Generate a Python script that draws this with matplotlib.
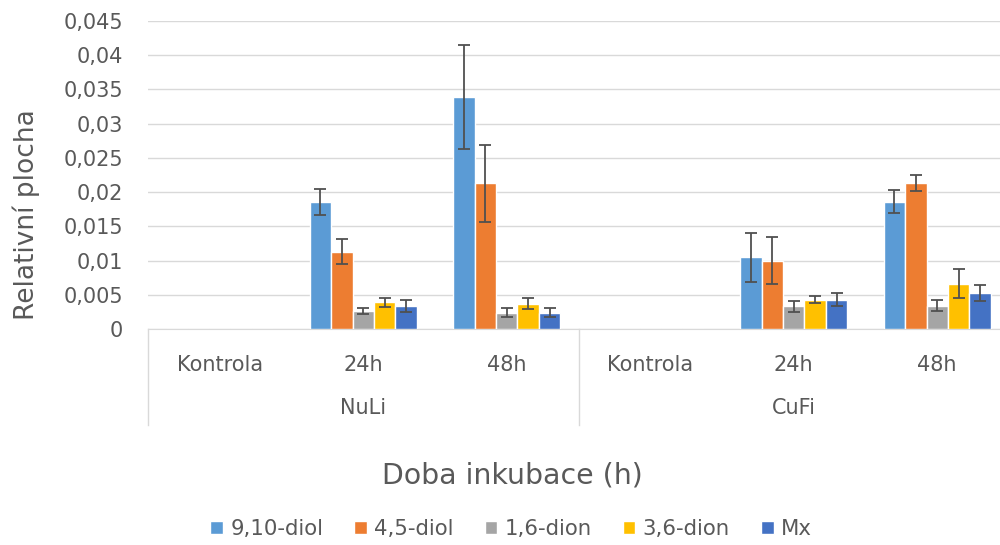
import numpy as np
import matplotlib.pyplot as plt
from matplotlib.lines import Line2D

# data
groups = ['NuLi', 'CuFi']
times = ['Kontrola', '24h', '48h']
series = ['9,10-diol', '4,5-diol', '1,6-dion', '3,6-dion', 'Mx']
colors = ['#5B9BD5', '#ED7D31', '#A5A5A5', '#FFC000', '#4472C4']

# values per category: NuLi Kontrola, NuLi 24h, NuLi 48h, CuFi Kontrola, CuFi 24h, CuFi 48h
diol910 = [0, 0.0186, 0.0339, 0, 0.0105, 0.0186]
diol45 = [0, 0.0113, 0.0213, 0, 0.0100, 0.0213]
dion16 = [0, 0.0026, 0.0024, 0, 0.0033, 0.0034]
dion36 = [0, 0.0039, 0.0037, 0, 0.0043, 0.0066]
mx = [0, 0.0034, 0.0024, 0, 0.0043, 0.0053]

err910 = [0, 0.0019, 0.0076, 0, 0.0036, 0.0017]
err45 = [0, 0.0018, 0.0056, 0, 0.0034, 0.0012]
err16 = [0, 0.0004, 0.0007, 0, 0.0008, 0.0008]
err36 = [0, 0.0007, 0.0008, 0, 0.0005, 0.0021]
errmx = [0, 0.0009, 0.0007, 0, 0.0009, 0.0012]

values = [diol910, diol45, dion16, dion36, mx]
errors = [err910, err45, err16, err36, errmx]

plt.rcParams['font.family'] = ['DejaVu Sans']
txt = '#595959'

fig = plt.figure(figsize=(10, 5.45), dpi=100)
ax = fig.add_axes([0.148, 0.3963, 0.861, 0.5651])

x = np.arange(len(groups) * len(times))
slot = 0.149
for i, (vals, errs) in enumerate(zip(values, errors)):
    pos = x + (i - 2) * slot
    ax.bar(pos, vals, width=slot, color=colors[i], edgecolor='white',
           linewidth=1, label=series[i], zorder=3)
    e = np.array(errs)
    m = e > 0
    ax.errorbar(pos[m], np.array(vals)[m], yerr=e[m], fmt='none',
                ecolor='#505050', elinewidth=1.3, capsize=4.5, capthick=1.3, zorder=4)

ax.set_xlim(-0.5, 5.5)
ax.set_ylim(0, 0.045)
ax.set_yticks(np.arange(0, 0.0451, 0.005))
ax.set_yticklabels(['0'] + [('%g' % v).replace('.', ',') for v in np.arange(0.005, 0.0451, 0.005)])
ax.tick_params(axis='y', length=0, pad=18, labelsize=15, labelcolor=txt)
ax.grid(axis='y', color='#D9D9D9', linewidth=1, zorder=0)
for s in ['top', 'right', 'left']:
    ax.spines[s].set_visible(False)
ax.spines['bottom'].set_color('#D9D9D9')

ax.set_xticks(x)
ax.set_xticklabels(times * len(groups))
ax.tick_params(axis='x', length=0, pad=19, labelsize=15, labelcolor=txt)

tr = ax.get_xaxis_transform()
for g, name in enumerate(groups):
    ax.text(g * 3 + 1, -0.256, name, transform=tr, ha='center', va='center',
            fontsize=15, color=txt)
for xs in [-0.5, 2.5]:
    ax.add_line(Line2D([xs, xs], [0, -0.312], transform=tr, color='#D9D9D9',
                       linewidth=1, clip_on=False))

fig.text(0.026, 0.607, 'Relativní plocha', rotation=90, ha='center', va='center',
         fontsize=19, color=txt)
fig.text(0.5125, 0.128, 'Doba inkubace (h)', ha='center', va='center',
         fontsize=20.4, color=txt)

fig.legend(loc='center', bbox_to_anchor=(0.511, 0.029), ncol=5, frameon=False,
           handlelength=0.6, handleheight=0.6, handletextpad=0.35,
           columnspacing=1.45, fontsize=15.3, labelcolor=txt)

fig.savefig('out.png', dpi=100)
